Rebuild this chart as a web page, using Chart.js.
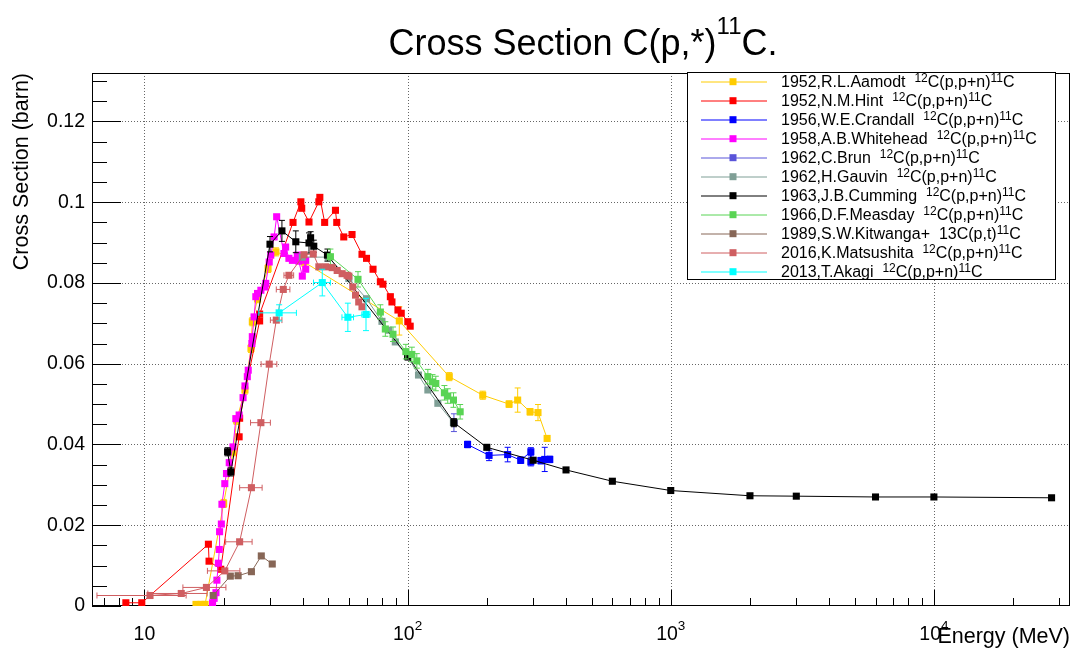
<!DOCTYPE html>
<html><head><meta charset="utf-8">
<script src="https://cdn.jsdelivr.net/npm/chart.js@4.4.1/dist/chart.umd.min.js"></script>
<style>html,body{margin:0;padding:0;background:#fff;}canvas{display:block;}</style>
</head><body>
<canvas id="c" width="1075" height="653"></canvas>
<script>
// ---------------- data (Energy in MeV, cross section in barn) ----------------
const aamodtE = [15.7, 16.4, 17.0, 20.0, 21.7, 22.4, 24.1, 25.4, 25.7, 26.9, 29.5, 31.6, 40.4, 93, 144, 193, 243, 262, 292, 313, 339];
const aamodtS = [0.0004, 0.0004, 0.0004, 0.0254, 0.0382, 0.0460, 0.0535, 0.0638, 0.0704, 0.0761, 0.0836, 0.0877, 0.0852, 0.0706, 0.0568, 0.0522, 0.0500, 0.0510, 0.0481, 0.0479, 0.0415];
const aamodtErr = [0, 0, 0, 0.001, 0.001, 0.001, 0.001, 0.001, 0.001, 0.001, 0.001, 0.001, 0.001, 0.0035, 0.001, 0.001, 0.0008, 0.003, 0.0008, 0.002, 0.0003];

const hintE = [8.5, 9.77, 17.5, 17.6, 19.5, 22.9, 23.0, 27.4, 27.4, 36.7, 39.3, 39.6, 42.2, 46.0, 46.4, 48.4, 53.2, 53.8, 57.2, 61.5, 67.1, 69.8, 73.9, 78.8, 80.6, 86.0, 87.2, 91.9, 94.6, 100.2, 102.3];
const hintS = [0.0008, 0.0008, 0.0153, 0.0111, 0.0091, 0.0419, 0.0465, 0.0706, 0.0723, 0.0950, 0.1001, 0.0985, 0.0951, 0.1001, 0.1012, 0.0950, 0.0980, 0.0950, 0.0914, 0.0920, 0.0871, 0.0861, 0.0834, 0.0803, 0.0797, 0.0766, 0.0753, 0.0733, 0.0725, 0.0704, 0.0693];

const crandallE = [169, 204, 240, 269, 294, 294, 321, 332, 347];
const crandallS = [0.0400, 0.0373, 0.0375, 0.0361, 0.0382, 0.0357, 0.0360, 0.0363, 0.0363];
const crandallErr = [0.0008, 0.0013, 0.0018, 0.0008, 0.001, 0.001, 0.0008, 0.003, 0.0008];

const whiteheadE = [18.15, 18.4, 18.7, 18.85, 19.1, 19.25, 19.3, 19.6, 19.7, 20.2, 20.5, 21.0, 21.7, 22.25, 22.9, 23.7, 24.1, 24.6, 24.8, 25.6, 25.7, 26.1, 26.5, 26.9, 27.7, 28.7, 28.9, 29.8, 30.2, 31.1, 31.8, 33.9, 34.4, 35.4, 36.5, 38.1, 38.6, 39.8, 41.0, 41.0];
const whiteheadS = [0.0008, 0.0019, 0.0033, 0.0064, 0.0106, 0.0140, 0.0184, 0.0203, 0.0252, 0.0303, 0.0328, 0.0355, 0.0394, 0.0464, 0.0473, 0.0516, 0.0545, 0.0568, 0.0584, 0.0650, 0.0667, 0.0716, 0.0766, 0.0774, 0.0782, 0.0790, 0.0799, 0.0852, 0.0869, 0.0914, 0.0964, 0.0873, 0.0889, 0.0861, 0.0856, 0.0869, 0.0854, 0.0817, 0.0856, 0.0834];

const brunE = [150];
const brunS = [0.0454];
const brunErr = [0.0022];

const gauvinE = [39.8, 49.9, 59.8, 69.8, 79.9, 84.7, 89.8, 100, 110, 119.4, 130.3, 149.3];
const gauvinS = [0.0864, 0.0864, 0.0811, 0.0761, 0.0705, 0.0683, 0.0654, 0.0619, 0.0572, 0.0535, 0.0502, 0.0454];

const cummingE = [20.7, 21.3, 30.0, 33.3, 37.6, 42.2, 42.8, 44.0, 49.6, 100, 150, 200, 300, 400, 600, 1000, 2000, 3000, 6000, 10000, 28000];
const cummingS = [0.0382, 0.0332, 0.0896, 0.0929, 0.0902, 0.0899, 0.0912, 0.0891, 0.0869, 0.0619, 0.0454, 0.0393, 0.0361, 0.0337, 0.0309, 0.0286, 0.0273, 0.0272, 0.0270, 0.0270, 0.0268];
const cummingErr = [0.001, 0.001, 0.0019, 0.0026, 0.0027, 0.0025, 0.0015, 0.0015, 0.0015, 0.001, 0.001, 0.0005, 0.0005, 0, 0, 0, 0, 0, 0, 0, 0];

const measdayE = [50.9, 64.8, 78.8, 82.3, 88, 98.5, 103.8, 108.4, 119.4, 124.4, 128, 138, 142.1, 149.4, 158.4];
const measdayS = [0.0865, 0.0809, 0.0728, 0.0686, 0.0673, 0.0630, 0.0623, 0.0607, 0.0568, 0.0555, 0.0551, 0.0528, 0.0520, 0.0510, 0.0481];
const measdayErr = [0.0019, 0.0019, 0.0018, 0.0018, 0.0018, 0.0018, 0.0018, 0.0018, 0.0018, 0.0018, 0.0018, 0.0018, 0.0018, 0.0018, 0.0018];

const kitwangaE = [18.25, 21.2, 22.7, 25.5, 27.8, 30.6];
const kitwangaS = [0.0026, 0.0074, 0.0075, 0.0085, 0.0124, 0.0104];

const matsushitaE = [10.5, 13.8, 17.2, 20.2, 23.0, 25.5, 27.7, 29.8, 31.7, 33.7, 35.4, 40.4, 43.8, 46.0, 48.8, 51.7, 54.0, 56.4, 58.9, 59.8, 61.9, 63.4, 65.2, 67.1];
const matsushitaS = [0.0026, 0.0031, 0.0046, 0.0087, 0.0159, 0.0293, 0.0454, 0.0599, 0.0708, 0.0784, 0.0819, 0.0870, 0.0872, 0.0840, 0.0840, 0.0838, 0.0831, 0.0823, 0.0819, 0.0817, 0.0790, 0.0770, 0.0753, 0.0741];
const matsushitaXErr = [3.9, 3.5, 3.2, 2.85, 2.65, 2.5, 2.4, 2.05, 1.6, 2.0, 1.5, 0, 0, 0, 0, 0, 0, 0, 0, 0, 0, 0, 0, 0];

const akagiE = [32.5, 47.4, 59.3, 69.5];
const akagiS = [0.0726, 0.0801, 0.0715, 0.0722];
const akagiXErr = [5.3, 3.5, 3.0, 2.5];
const akagiErr = [0.002, 0.0033, 0.0035, 0.004];

const seriesNames = ['1952,R.L.Aamodt', '1952,N.M.Hint', '1956,W.E.Crandall', '1958,A.B.Whitehead', '1962,C.Brun', '1962,H.Gauvin', '1963,J.B.Cumming', '1966,D.F.Measday', '1989,S.W.Kitwanga+', '2016,K.Matsushita', '2013,T.Akagi'];
const seriesReactions = ['^{12}C(p,p+n)^{11}C', '^{12}C(p,p+n)^{11}C', '^{12}C(p,p+n)^{11}C', '^{12}C(p,p+n)^{11}C', '^{12}C(p,p+n)^{11}C', '^{12}C(p,p+n)^{11}C', '^{12}C(p,p+n)^{11}C', '^{12}C(p,p+n)^{11}C', '13C(p,t)^{11}C', '^{12}C(p,p+n)^{11}C', '^{12}C(p,p+n)^{11}C'];
const seriesColors = ['#ffcc00', '#ff0000', '#0000ff', '#ff00ff', '#5954d9', '#7f9f96', '#000000', '#59d454', '#876656', '#cf5e61', '#00ffff'];

const yTickValues = [0, 0.02, 0.04, 0.06, 0.08, 0.1, 0.12];
const yTickLabels = ['0', '0.02', '0.04', '0.06', '0.08', '0.1', '0.12'];
const xTickValues = [10, 100, 1000, 10000];
const xTickLabels = ['10', '10^{2}', '10^{3}', '10^{4}'];

const titleText = 'Cross Section C(p,*)^{11}C.';
const xTitle = 'Energy (MeV)';
const yTitle = 'Cross Section (barn)';

// ---------------- assembly ----------------
const seriesList = [
  {E: aamodtE, S: aamodtS, ey: aamodtErr, ex: null},
  {E: hintE, S: hintS, ey: null, ex: null},
  {E: crandallE, S: crandallS, ey: crandallErr, ex: null},
  {E: whiteheadE, S: whiteheadS, ey: null, ex: null},
  {E: brunE, S: brunS, ey: brunErr, ex: null},
  {E: gauvinE, S: gauvinS, ey: null, ex: null},
  {E: cummingE, S: cummingS, ey: cummingErr, ex: null},
  {E: measdayE, S: measdayS, ey: measdayErr, ex: null},
  {E: kitwangaE, S: kitwangaS, ey: null, ex: null},
  {E: matsushitaE, S: matsushitaS, ey: null, ex: matsushitaXErr},
  {E: akagiE, S: akagiS, ey: akagiErr, ex: akagiXErr}
];
seriesList.forEach((s, i) => { s.color = seriesColors[i]; s.name = seriesNames[i]; s.reac = seriesReactions[i]; });

const FONT = '"Liberation Sans", Arial, Helvetica, sans-serif';

function parseRich(str) {
  const parts = []; const re = /\^\{([^}]*)\}/g; let last = 0, m;
  while ((m = re.exec(str))) {
    if (m.index > last) parts.push({t: str.slice(last, m.index), s: false});
    parts.push({t: m[1], s: true}); last = re.lastIndex;
  }
  if (last < str.length) parts.push({t: str.slice(last), s: false});
  return parts;
}
function richText(ctx, str, x, y, size, supSize, raise, align) {
  const parts = parseRich(str); let w = 0;
  parts.forEach(p => { ctx.font = (p.s ? supSize : size) + 'px ' + FONT; p.w = ctx.measureText(p.t).width; w += p.w; });
  let cx = align === 'center' ? x - w / 2 : align === 'right' ? x - w : x;
  ctx.textAlign = 'left'; ctx.textBaseline = 'alphabetic';
  parts.forEach(p => { ctx.font = (p.s ? supSize : size) + 'px ' + FONT; ctx.fillText(p.t, cx, p.s ? y - raise : y); cx += p.w; });
}
function seg(ctx, x1, y1, x2, y2) { ctx.beginPath(); ctx.moveTo(x1, y1); ctx.lineTo(x2, y2); ctx.stroke(); }

const rootAxes = {
  id: 'rootAxes',
  beforeDatasetsDraw(chart) {
    const {ctx, chartArea: a} = chart; const x = chart.scales.x, y = chart.scales.y;
    ctx.save();
    ctx.lineWidth = 1;
    // grid
    ctx.strokeStyle = '#666'; ctx.setLineDash([1, 2]);
    yTickValues.forEach(v => { if (v <= 0) return; const py = Math.round(y.getPixelForValue(v)) + 0.5; seg(ctx, a.left, py, a.right, py); });
    xTickValues.forEach(v => { const px = Math.round(x.getPixelForValue(v)) + 0.5; seg(ctx, px, a.top, px, a.bottom); });
    ctx.setLineDash([]);
    ctx.strokeStyle = '#000';
    // y ticks
    for (let k = 0; k <= 30; k++) {
      const v = k * 0.005; if (v > y.max) break;
      const py = Math.round(y.getPixelForValue(v)) + 0.5;
      seg(ctx, a.left, py, a.left + (k % 4 === 0 ? 29 : 15), py);
    }
    // x ticks
    for (let d = 0; d <= 4; d++) for (let m = 1; m <= 9; m++) {
      const v = m * Math.pow(10, d); if (v < x.min || v > x.max) continue;
      const px = Math.round(x.getPixelForValue(v)) + 0.5;
      seg(ctx, px, a.bottom, px, a.bottom - (m === 1 ? 16 : 8));
    }
    // frame
    ctx.strokeRect(Math.round(a.left) + 0.5, Math.round(a.top) + 0.5, Math.round(a.width) - 1, Math.round(a.height) - 1);
    ctx.restore();
  },
  afterDraw(chart) {
    const {ctx, chartArea: a} = chart; const x = chart.scales.x, y = chart.scales.y;
    ctx.save(); ctx.fillStyle = '#000';
    // y tick labels
    ctx.font = '19.5px ' + FONT; ctx.textAlign = 'right'; ctx.textBaseline = 'middle';
    yTickValues.forEach((v, i) => ctx.fillText(yTickLabels[i], a.left - 7, y.getPixelForValue(v)));
    // x tick labels
    xTickValues.forEach((v, i) => richText(ctx, xTickLabels[i], x.getPixelForValue(v), 640, 19.5, 13.5, 10, 'center'));
    // axis titles
    ctx.font = '21.5px ' + FONT;
    richText(ctx, xTitle, a.right, 643, 21.5, 15, 8, 'right');
    ctx.save(); ctx.translate(28, a.top); ctx.rotate(-Math.PI / 2);
    ctx.font = '21.5px ' + FONT; ctx.textAlign = 'right'; ctx.textBaseline = 'alphabetic';
    ctx.fillText(yTitle, 0, 0); ctx.restore();
    // title
    richText(ctx, titleText, 583, 55, 36, 24, 21, 'center');
    // legend
    const L = 687, T = 72, R = 1056, B = 280;
    ctx.fillStyle = '#fff'; ctx.fillRect(L, T, R - L, B - T);
    ctx.strokeStyle = '#000'; ctx.lineWidth = 1; ctx.strokeRect(L + 0.5, T + 0.5, R - L - 1, B - T - 1);
    seriesList.forEach((s, i) => {
      const cy = 81.7 + 19.0 * i;
      ctx.strokeStyle = s.color; ctx.lineWidth = 1;
      seg(ctx, 701, Math.round(cy), 767, Math.round(cy));
      ctx.fillStyle = s.color; ctx.fillRect(733 - 3.5, cy - 3.5, 7, 7);
      ctx.fillStyle = '#000';
      richText(ctx, s.name + '  ' + s.reac, 781, cy + 5.7, 16, 12, 5, 'left');
    });
    ctx.restore();
  }
};

const errorBars = {
  id: 'errorBars',
  beforeDatasetDraw(chart, args) {
    const s = seriesList[args.index]; if (!s) return;
    const {ctx} = chart; const x = chart.scales.x, y = chart.scales.y;
    ctx.save(); ctx.strokeStyle = s.color; ctx.lineWidth = 1;
    s.E.forEach((e, j) => {
      const px = x.getPixelForValue(e), py = y.getPixelForValue(s.S[j]);
      const ey = s.ey ? s.ey[j] : 0, ex = s.ex ? s.ex[j] : 0;
      if (ey > 0) {
        const p1 = y.getPixelForValue(s.S[j] - ey), p2 = y.getPixelForValue(s.S[j] + ey);
        seg(ctx, px, p1, px, p2); seg(ctx, px - 3, p1, px + 3, p1); seg(ctx, px - 3, p2, px + 3, p2);
      }
      if (ex > 0) {
        const q1 = x.getPixelForValue(e - ex), q2 = x.getPixelForValue(e + ex);
        seg(ctx, q1, py, q2, py); seg(ctx, q1, py - 3, q1, py + 3); seg(ctx, q2, py - 3, q2, py + 3);
      }
    });
    ctx.restore();
  }
};

const datasets = seriesList.map((s, i) => ({
  label: s.name,
  data: s.E.map((e, j) => ({x: e, y: s.S[j]})),
  borderColor: s.color, backgroundColor: s.color, borderWidth: 1,
  pointStyle: 'rect', pointRadius: 5, pointHoverRadius: 5, pointBorderWidth: 0,
  showLine: true, tension: 0, order: seriesList.length - i
}));

new Chart(document.getElementById('c'), {
  type: 'scatter',
  data: {datasets},
  options: {
    responsive: false, animation: false, devicePixelRatio: 1, events: [],
    layout: {padding: {left: 92, right: 2, top: 73, bottom: 47}},
    scales: {
      x: {type: 'logarithmic', min: 6.32, max: 32900, display: false},
      y: {type: 'linear', min: 0, max: 0.132, display: false}
    },
    plugins: {legend: {display: false}, tooltip: {enabled: false}, title: {display: false}}
  },
  plugins: [rootAxes, errorBars]
});
</script>
</body></html>
